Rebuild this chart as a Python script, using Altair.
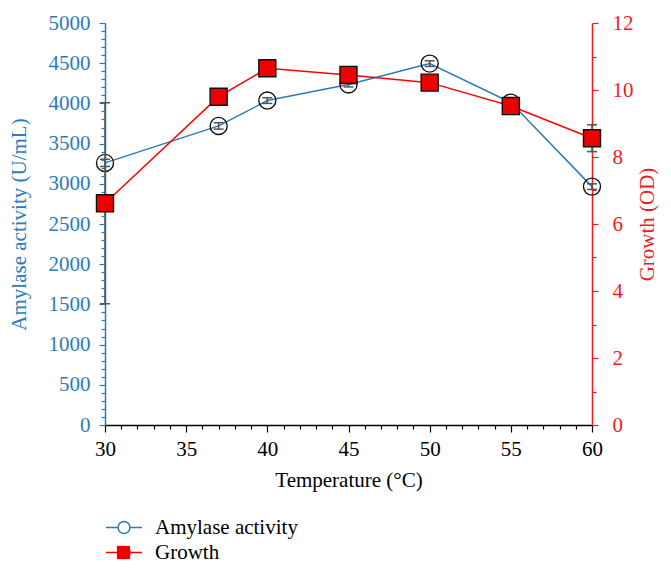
import altair as alt
import pandas as pd

# ---- data ----
temps = [30, 37, 40, 45, 50, 55, 60]
amylase = [3260, 3720, 4035, 4235, 4495, 4010, 2965]
amylase_err = [45, 40, 35, 30, 35, 25, 35]
growth = [6.62, 9.80, 10.65, 10.45, 10.22, 9.52, 8.56]
growth_err = [3.0, 0.1, 0.1, 0.1, 0.1, 0.1, 0.40]
series_names = ["Amylase activity", "Growth"]
marker_keys = ["circle marker", "square marker"]

x_ticks = list(range(30, 61))
amy_ticks = list(range(0, 5001, 100))
growth_ticks = [i * 0.5 for i in range(0, 25)]

BLUE = "#2b7bb9"
RED = "#ee1c1c"
LINE_RED = "#ff0000"
FILL_RED = "#ee0000"
GREY = "#555555"
FONT = "Liberation Serif"

amy_df = pd.DataFrame({
    "temp": temps,
    "value": amylase,
    "lo": [v - e for v, e in zip(amylase, amylase_err)],
    "hi": [v + e for v, e in zip(amylase, amylase_err)],
    "series": series_names[0],
    "series_pt": marker_keys[0],
})
gr_df = pd.DataFrame({
    "temp": temps,
    "value": growth,
    "lo": [v - e for v, e in zip(growth, growth_err)],
    "hi": [v + e for v, e in zip(growth, growth_err)],
    "series": series_names[1],
    "series_pt": marker_keys[1],
})

x_scale = alt.Scale(domain=[30, 60], nice=False, zero=False)
x_axis = alt.Axis(
    title="Temperature (°C)",
    values=x_ticks,
    labelExpr="datum.value % 5 === 0 ? datum.label : ''",
    labelOverlap=False, labelFlush=False,
    tickSize={"condition": {"test": "datum.value % 5 === 0", "value": 7}, "value": 4},
    tickColor="black", domainColor="black", labelColor="black", titleColor="black",
    labelPadding=6, titlePadding=10, grid=False, zindex=0,
)
X = alt.X("temp:Q", scale=x_scale, axis=x_axis)

amy_scale = alt.Scale(domain=[0, 5000], nice=False, zero=False)
amy_axis = alt.Axis(
    title="Amylase activity (U/mL)", orient="left",
    values=amy_ticks,
    labelExpr="datum.value % 500 === 0 ? datum.label : ''",
    labelOverlap=False, labelFlush=False, format="d",
    tickSize={"condition": {"test": "datum.value % 500 === 0", "value": 6}, "value": 4},
    tickColor=BLUE, domainColor=BLUE, labelColor=BLUE, titleColor=BLUE,
    labelPadding=9, titlePadding=19, grid=False, zindex=0,
)
gr_scale = alt.Scale(domain=[0, 12], nice=False, zero=False)
gr_axis = alt.Axis(
    title="Growth (OD)", orient="right",
    values=growth_ticks,
    labelExpr="datum.value % 2 === 0 ? datum.label : ''",
    labelOverlap=False, labelFlush=False, format="d",
    tickSize={"condition": {"test": "datum.value % 2 === 0", "value": 6}, "value": 4},
    tickColor=RED, domainColor=RED, labelColor=RED, titleColor=RED,
    labelPadding=14, titlePadding=24, titleAngle=270, grid=False, zindex=0,
)

stroke_scale = alt.Scale(domain=series_names, range=[BLUE, LINE_RED])
fill_scale = alt.Scale(domain=marker_keys, range=["rgba(255,255,255,0)", FILL_RED])
shape_scale = alt.Scale(domain=marker_keys, range=["circle", "square"])

# line symbol with an open ring in the middle (the ring is hidden under the square for Growth)
stroke_legend = alt.Legend(
    title=None, orient="none", legendX=0, legendY=492,
    symbolType=(
        "M-1,0H-0.33M0.33,0H1"
        "M0.33,0A0.33,0.33 0 1,1 -0.33,0A0.33,0.33 0 1,1 0.33,0"
    ),
    symbolSize=1300, symbolStrokeWidth=1.5,
    symbolFillColor="transparent",
    clipHeight=25, rowPadding=0, padding=0, labelOffset=12,
    labelFont=FONT, labelFontSize=21, labelColor="black",
)
pt_legend = alt.Legend(
    title=None, orient="none", legendX=11, legendY=492,
    symbolSize=175, symbolStrokeColor="#111111", symbolStrokeWidth=1.3,
    symbolOpacity=1,
    clipHeight=25, rowPadding=0, padding=0,
    labelExpr="''", labelFontSize=1,
)


def series_layers(df, yscale, yaxis):
    base = alt.Chart(df)
    line = base.mark_line(strokeWidth=1.5).encode(
        x=X, y=alt.Y("value:Q", scale=yscale, axis=yaxis),
        stroke=alt.Stroke("series:N", scale=stroke_scale, legend=stroke_legend),
    )
    stem = base.mark_rule(color=GREY, strokeWidth=1.6).encode(
        x=X, y=alt.Y("lo:Q", scale=yscale, axis=yaxis), y2="hi:Q"
    )
    cap_lo = base.mark_tick(orient="horizontal", size=10, thickness=1.5, color=GREY, opacity=1).encode(
        x=X, y=alt.Y("lo:Q", scale=yscale, axis=yaxis)
    )
    cap_hi = base.mark_tick(orient="horizontal", size=10, thickness=1.5, color=GREY, opacity=1).encode(
        x=X, y=alt.Y("hi:Q", scale=yscale, axis=yaxis)
    )
    pts = base.mark_point(filled=True, size=290, stroke="#111111", strokeWidth=1.4, opacity=1).encode(
        x=X, y=alt.Y("value:Q", scale=yscale, axis=yaxis),
        fill=alt.Fill("series_pt:N", scale=fill_scale, legend=pt_legend),
        shape=alt.Shape("series_pt:N", scale=shape_scale, legend=pt_legend),
    )
    return alt.layer(line, stem, cap_lo, cap_hi, pts)


amy_layer = series_layers(amy_df, amy_scale, amy_axis)
gr_layer = series_layers(gr_df, gr_scale, gr_axis)

chart = (
    alt.layer(amy_layer, gr_layer)
    .resolve_scale(y="independent")
    .properties(
        width=487, height=402,
        autosize=alt.AutoSizeParams(type="none"),
        padding={"left": 97, "top": 15, "right": 71, "bottom": 143},
    )
    .configure_view(stroke=None)
    .configure_axis(
        labelFont=FONT, titleFont=FONT, labelFontSize=21, titleFontSize=21,
        titleFontWeight="normal", domainWidth=1.5, tickWidth=1.2,
    )
    .configure_legend(labelFont=FONT)
)

chart.save("out.html", embed_options={"renderer": "svg", "actions": False})
